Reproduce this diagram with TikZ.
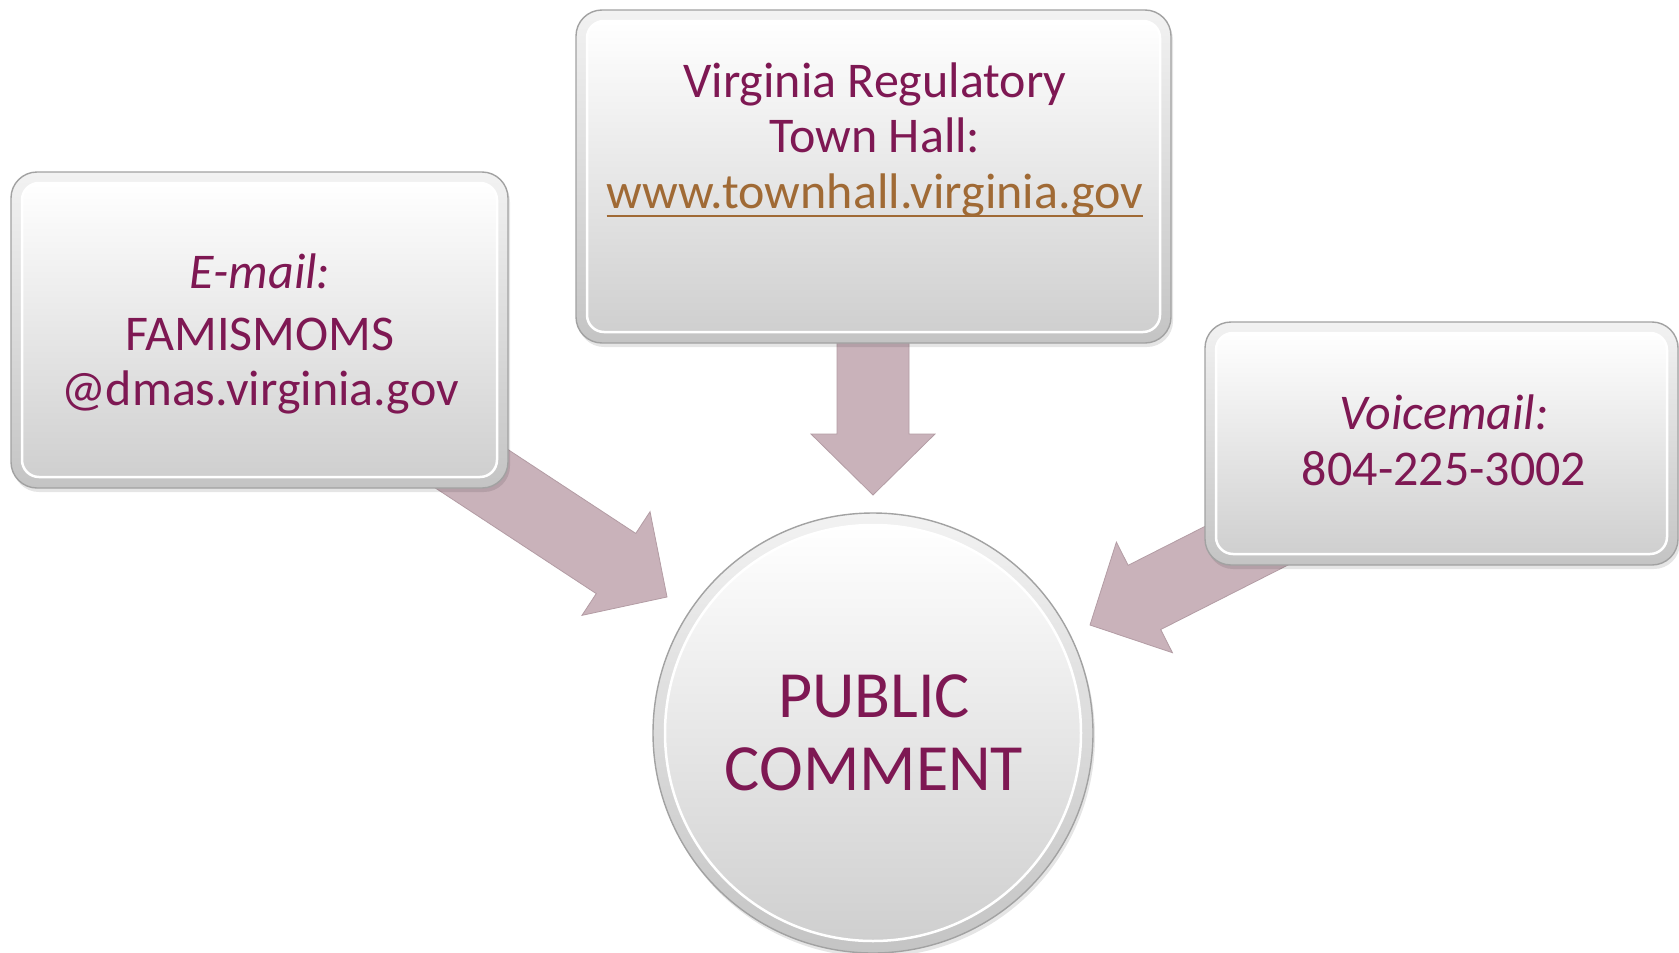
\documentclass[tikz,border=0pt]{standalone}
\usepackage{fontspec}
\setmainfont{Carlito}
\usetikzlibrary{calc}
\definecolor{txt}{HTML}{7E1853}
\definecolor{urlc}{HTML}{A06A35}
\definecolor{arr}{HTML}{C9B2BA}
\definecolor{arredge}{HTML}{B39CA4}
\definecolor{rimline}{HTML}{A2A2A2}
\definecolor{rimtop}{HTML}{F2F2F2}
\definecolor{rimbot}{HTML}{C4C4C4}
\definecolor{facebot}{HTML}{CFCFCF}
\newcommand\myul[1]{\setbox0\hbox{#1}\rlap{\color{urlc}\rule[-9.2pt]{\wd0}{2.4pt}}\box0}
\tikzset{
  rim/.style={draw=rimline, line width=1.4pt, top color=rimtop, bottom color=rimbot},
  face/.style={draw=white, line width=2.5pt, top color=white, bottom color=facebot},
  shadebox/.style={fill=black, opacity=0.10},
  boxtext/.style={text=txt, align=center, inner sep=0pt, anchor=base,
    font=\fontsize{50}{55.3}\selectfont},
  circtext/.style={text=txt, align=center, inner sep=0pt, anchor=base,
    font=\fontsize{66}{73}\selectfont},
  arrowshape/.style={fill=arr, draw=arredge, line width=0.8pt, line join=miter}
}
\newcommand\glassbox[3]{%
  \fill[shadebox, rounded corners=26pt] ($(#2)+(2,4)$) rectangle ($(#3)+(2,4)$);
  \path[rim, rounded corners=26pt] (#2) rectangle (#3);
  \path[face, rounded corners=17pt] ($(#2)+(11,11)$) rectangle ($(#3)+(-11,-11)$);
  \coordinate (#1) at ($(#2)!0.5!(#3)$);
}
\newcommand\blockarrow[2]{%
  \coordinate (bm) at ($(#2)!61pt!(#1)$);
  \path[arrowshape] ($(#1)!36pt!90:(bm)$) -- ($(bm)!36pt!-90:(#1)$)
    -- ($(bm)!62pt!-90:(#1)$) -- (#2) -- ($(bm)!62pt!90:(#1)$)
    -- ($(bm)!36pt!90:(#1)$) -- ($(#1)!36pt!-90:(bm)$) -- cycle;
}
\begin{document}
\begin{tikzpicture}[x=1pt, y=-1pt]
\useasboundingbox (0,0) rectangle (1679,953);
\fill[white] (0,0) rectangle (1679,953);
% arrow ends
\coordinate (ls) at (398.6,420.8);
\coordinate (lt) at (667,597);
\coordinate (ts) at (873,250);
\coordinate (tt) at (873,495);
\coordinate (rs) at (1322.8,507);
\coordinate (rt) at (1090,625);
\blockarrow{ls}{lt}
\blockarrow{ts}{tt}
\blockarrow{rs}{rt}
% boxes
\glassbox{emailbox}{11,172}{508,488}
\glassbox{townbox}{576,10}{1171,343}
\glassbox{voicebox}{1205,322}{1678,565}
% circle
\coordinate (pc) at (873,733);
\fill[shadebox] ($(pc)+(2,4)$) circle (220pt);
\path[rim] (pc) circle (220pt);
\path[face] (pc) circle (208pt);
% texts (anchored at the baseline of the last line)
\node[boxtext] (emailtxt) at (260,405.7) {{\itshape E-mail:}\\[6.5pt] FAMISMOMS\\ @dmas.virginia.gov};
\node[boxtext] (towntxt) at (875,208) {Virginia Regulatory\\ Town Hall:\\ {\color{urlc}\myul{www.townhall.virginia.gov}}};
\node[boxtext] (voicetxt) at (1444,485) {{\itshape Voicemail:}\\ 804-225-3002};
\node[circtext] (pctxt) at (874,790) {PUBLIC\\ COMMENT};
\end{tikzpicture}
\end{document}
